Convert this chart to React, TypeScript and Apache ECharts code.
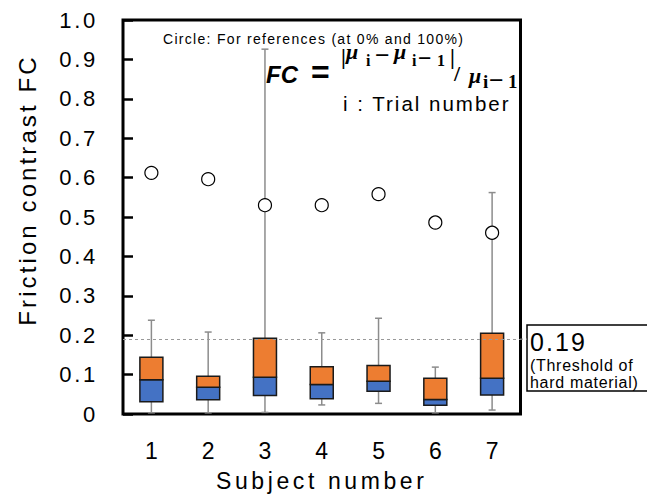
import React, { useEffect, useRef } from 'react';
import * as echarts from 'echarts';

const subjects = ['1', '2', '3', '4', '5', '6', '7'];
const whiskerLow = [0.003, 0.003, 0.004, 0.023, 0.027, 0.003, 0.01];
const quartile1 = [0.031, 0.036, 0.047, 0.039, 0.058, 0.022, 0.048];
const medians = [0.087, 0.068, 0.093, 0.075, 0.083, 0.037, 0.091];
const quartile3 = [0.144, 0.096, 0.192, 0.12, 0.123, 0.091, 0.205];
const whiskerHigh = [0.238, 0.208, 0.926, 0.206, 0.243, 0.119, 0.562];
const referenceValues = [0.612, 0.596, 0.53, 0.53, 0.558, 0.486, 0.46];
const threshold = 0.19;

const SANS = "'Liberation Sans', Arial, sans-serif";
const SERIF = "'Liberation Serif', 'DejaVu Serif', serif";

function spacingFor(s: string): number {
  if (/^\d\.\d$/.test(s) || s === '0') return 2.7;
  if (s === 'Subject number') return 3.6;
  if (s === 'Friction contrast FC') return 3.1;
  if (s === '0.19') return 2.1;
  if (s === '(Threshold of' || s === 'hard material)') return 0.7;
  if (s.startsWith('Circle')) return 1.3;
  if (s.startsWith('i : Trial')) return 2;
  return 0;
}

export default function App() {
  const ref = useRef<HTMLDivElement>(null);
  useEffect(() => {
    document.body.style.margin = '0';
    const el = ref.current!;
    const chart = echarts.init(el, null, { renderer: 'svg' });
    const applySpacing = () => {
      el.querySelectorAll('text').forEach((t) => {
        const ls = spacingFor((t.textContent || '').trim());
        t.setAttribute('letter-spacing', ls + 'px');
      });
    };
    chart.on('rendered', applySpacing);

    const boxData = subjects.map((_, i) => [
      i,
      whiskerLow[i],
      quartile1[i],
      medians[i],
      quartile3[i],
      whiskerHigh[i],
    ]);

    const renderItem = (params: any, api: any) => {
      const x = api.value(0);
      const pLow = api.coord([x, api.value(1)]);
      const pQ1 = api.coord([x, api.value(2)]);
      const pMed = api.coord([x, api.value(3)]);
      const pQ3 = api.coord([x, api.value(4)]);
      const pHigh = api.coord([x, api.value(5)]);
      const band = api.size([1, 0])[0];
      const bw = band * 0.405;
      const cap = 7;
      const cx = pLow[0];
      const wStyle = { stroke: '#8c8c8c', lineWidth: 1.5 };
      const bStroke = '#1a1a1a';
      return {
        type: 'group',
        children: [
          { type: 'line', shape: { x1: cx, y1: pHigh[1], x2: cx, y2: pLow[1] }, style: wStyle },
          { type: 'line', shape: { x1: cx - cap / 2, y1: pHigh[1], x2: cx + cap / 2, y2: pHigh[1] }, style: wStyle },
          { type: 'line', shape: { x1: cx - cap / 2, y1: pLow[1], x2: cx + cap / 2, y2: pLow[1] }, style: wStyle },
          {
            type: 'rect',
            shape: { x: cx - bw / 2, y: pMed[1], width: bw, height: pQ1[1] - pMed[1] },
            style: { fill: '#4472C4', stroke: bStroke, lineWidth: 1.5 },
          },
          {
            type: 'rect',
            shape: { x: cx - bw / 2, y: pQ3[1], width: bw, height: pMed[1] - pQ3[1] },
            style: { fill: '#ED7D31', stroke: bStroke, lineWidth: 1.5 },
          },
        ],
      };
    };

    const txt = (
      text: string,
      x: number,
      y: number,
      fontSize: number,
      family: string,
      weight: string = 'normal',
      style: string = 'normal',
      align: string = 'left'
    ) => ({
      type: 'text',
      x,
      y,
      silent: true,
      style: {
        text,
        fontSize,
        fontFamily: family,
        fontWeight: weight,
        fontStyle: style,
        fill: '#000',
        align,
        verticalAlign: 'middle',
      },
    });

    const formula = [
      txt('Circle: For references (at 0% and 100%)', 163, 39, 14, SANS),
      txt('FC', 266, 74, 24, SANS, 'bold', 'italic'),
      txt('=', 311, 72, 32, SANS, 'bold'),
      txt('|', 341, 56, 22, SERIF, 'bold'),
      txt('μ', 346, 51, 22, SERIF, 'bold', 'italic'),
      txt('i', 366, 60, 16, SERIF, 'bold'),
      txt('−', 375, 55, 26, SERIF, 'bold'),
      txt('μ', 394, 51, 22, SERIF, 'bold', 'italic'),
      txt('i', 412, 60, 16, SERIF, 'bold'),
      txt('−', 418, 58, 24, SERIF, 'bold'),
      txt('1', 437, 60, 16, SERIF, 'bold'),
      txt('|', 450, 56, 22, SERIF, 'bold'),
      txt('/', 454, 73.6, 22, SERIF, 'bold'),
      txt('μ', 469, 75, 22, SERIF, 'bold', 'italic'),
      txt('i', 483, 81, 19, SERIF, 'bold'),
      txt('−', 489, 80, 26, SERIF, 'bold'),
      txt('1', 508, 81, 19, SERIF, 'bold'),
      txt('i : Trial number', 343, 103, 20.5, SANS),
    ];

    const annotation = [
      {
        type: 'rect',
        silent: true,
        shape: { x: 527, y: 325, width: 140, height: 66 },
        style: { fill: '#fff', stroke: '#000', lineWidth: 1.5 },
      },
      txt('0.19', 530, 342, 25, SANS),
      txt('(Threshold of', 530, 365, 16, SANS),
      txt('hard material)', 530, 382, 16, SANS),
      {
        type: 'text',
        x: 27,
        y: 190,
        rotation: Math.PI / 2,
        silent: true,
        style: {
          text: 'Friction contrast FC',
          fontSize: 24,
          fontFamily: SANS,
          fill: '#000',
          align: 'center',
          verticalAlign: 'middle',
        },
      },
    ];

    const option: any = {
      animation: false,
      backgroundColor: '#fff',
      textStyle: { fontFamily: SANS },
      grid: {
        left: 123,
        top: 20,
        width: 397.5,
        height: 394,
        show: true,
        borderColor: '#000',
        borderWidth: 3,
        backgroundColor: 'transparent',
        containLabel: false,
        outerBoundsMode: 'none',
      },
      xAxis: {
        type: 'category',
        data: subjects,
        axisLine: { show: false },
        axisTick: { show: false },
        axisLabel: { color: '#000', fontSize: 23, margin: 25, fontFamily: SANS },
        name: 'Subject number',
        nameLocation: 'middle',
        nameGap: 55,
        nameTextStyle: { color: '#000', fontSize: 23, fontFamily: SANS },
        splitLine: { show: false },
      },
      yAxis: {
        type: 'value',
        min: 0,
        max: 1,
        interval: 0.1,
        axisLine: { show: false },
        axisTick: { show: true, inside: true, length: 10, lineStyle: { color: '#000', width: 2.5 } },
        axisLabel: {
          color: '#000',
          fontSize: 22,
          margin: 25,
          fontFamily: SANS,
          formatter: (v: number) => (v === 0 ? '0' : v.toFixed(1)),
        },
        splitLine: { show: false },
      },
      series: [
        {
          type: 'line',
          data: [],
          z: 1,
          markLine: {
            silent: true,
            symbol: 'none',
            label: { show: false },
            lineStyle: { color: '#999', type: [3, 3], width: 1 },
            data: [{ yAxis: threshold }],
          },
        },
        {
          type: 'custom',
          z: 2,
          silent: true,
          renderItem,
          encode: { x: 0, y: [1, 2, 3, 4, 5] },
          data: boxData,
        },
        {
          type: 'scatter',
          z: 3,
          silent: true,
          symbol: 'circle',
          symbolSize: 13,
          itemStyle: { color: '#fff', borderColor: '#000', borderWidth: 1.2, opacity: 1 },
          data: referenceValues,
        },
      ],
      graphic: [...formula, ...annotation],
    };
    chart.setOption(option);

    const yT = chart.convertToPixel({ yAxisIndex: 0 }, threshold) as number;
    chart.setOption({
      graphic: [
        ...formula,
        ...annotation,
        {
          type: 'line',
          silent: true,
          shape: { x1: 520, y1: yT, x2: 527, y2: yT },
          style: { stroke: '#999', lineWidth: 1, lineDash: [3, 3] },
        },
      ],
    });
    applySpacing();
    const t = setTimeout(applySpacing, 50);

    return () => {
      clearTimeout(t);
      chart.dispose();
    };
  }, []);

  return <div ref={ref} style={{ width: 647, height: 496 }} />;
}
